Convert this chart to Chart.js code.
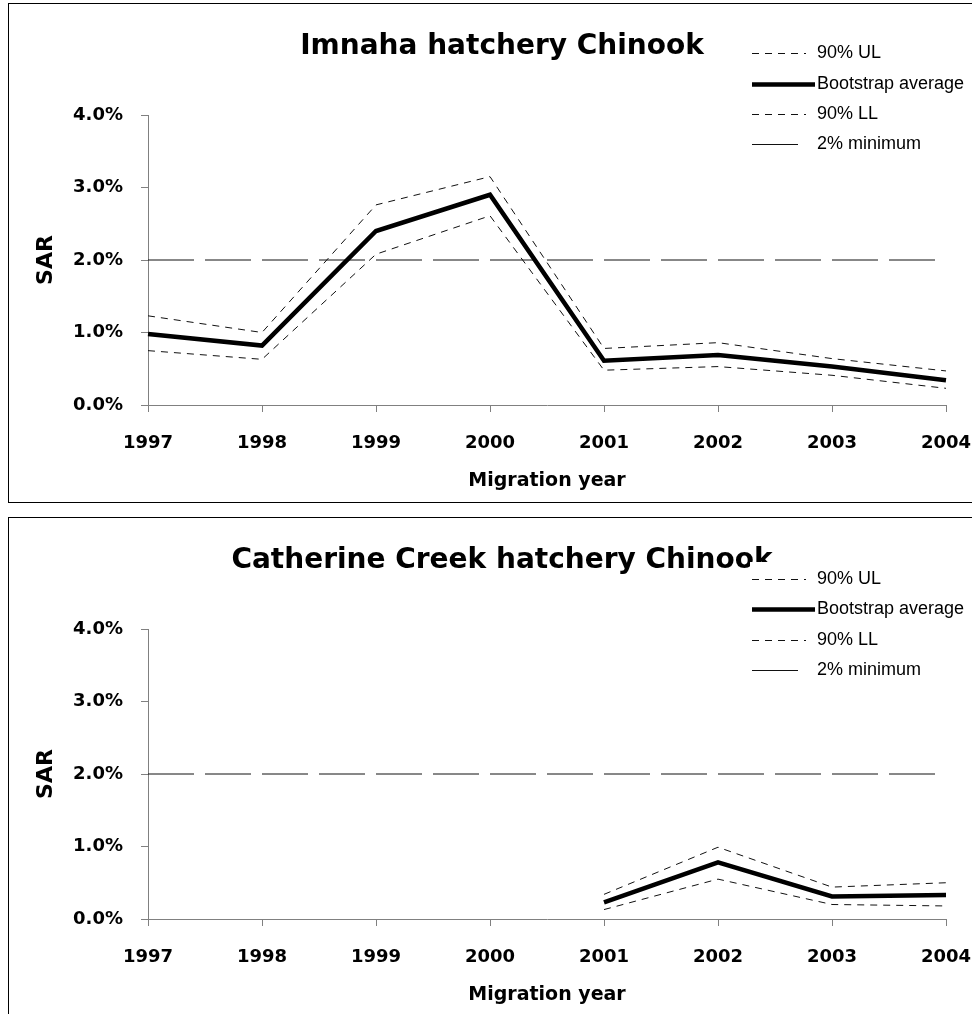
<!DOCTYPE html>
<html>
<head>
<meta charset="utf-8">
<script src="https://cdn.jsdelivr.net/npm/chart.js@4.4.1/dist/chart.umd.min.js"></script>
<style>
  html, body { margin: 0; padding: 0; background: #fff; overflow: hidden; }
  body { width: 972px; height: 1014px; position: relative; }
  .panel { position: absolute; left: 8px; width: 1000px; height: 498px; border: 1px solid #000; border-right: none; }
  #p1 { top: 3px; }
  #p2 { top: 517px; }
  .panel canvas { display: block; }
</style>
</head>
<body>
<div class="panel" id="p1"><canvas id="chart1" width="1000" height="498" style="width:1000px;height:498px"></canvas></div>
<div class="panel" id="p2"><canvas id="chart2" width="1000" height="498" style="width:1000px;height:498px"></canvas></div>
<script>
// migration years (x axis) and SAR ticks in %
const years = ['1997', '1998', '1999', '2000', '2001', '2002', '2003', '2004'];
const sarTicks = [0, 1, 2, 3, 4];

// Imnaha hatchery Chinook, SAR %
const imnahaUL = [1.23, 1.00, 2.76, 3.15, 0.78, 0.86, 0.64, 0.47];
const imnahaAvg = [0.98, 0.82, 2.40, 2.90, 0.61, 0.69, 0.53, 0.34];
const imnahaLL = [0.75, 0.63, 2.08, 2.61, 0.48, 0.53, 0.41, 0.23];

// Catherine Creek hatchery Chinook, SAR % (no data before 2001)
const catherineUL = [null, null, null, null, 0.34, 0.99, 0.44, 0.50];
const catherineAvg = [null, null, null, null, 0.23, 0.78, 0.31, 0.33];
const catherineLL = [null, null, null, null, 0.13, 0.55, 0.20, 0.18];

// 2% minimum goal
const minimum = [2, 2, 2, 2, 2, 2, 2, 2];

const seriesLabels = ['90% UL', 'Bootstrap average', '90% LL', '2% minimum'];

const boldFont = size => ({ family: 'DejaVu Sans', weight: 'bold', size: size });

// title + legend drawn on top of the chart (legend box is opaque, like the original)
const panelDecor = {
    id: 'panelDecor',
    afterDraw(chart, args, opts) {
        const ctx = chart.ctx;
        ctx.save();
        ctx.font = 'bold 28px "DejaVu Sans"';
        ctx.fillStyle = '#000';
        ctx.textAlign = 'center';
        ctx.textBaseline = 'alphabetic';
        ctx.fillText(opts.title, 493, 49.5);

        const gap = 30.3;
        ctx.fillStyle = '#fff';
        ctx.fillRect(741, opts.legendTop - 17, 259, gap * 3 + 34);

        ctx.font = '18px "Liberation Sans"';
        ctx.textAlign = 'left';
        ctx.textBaseline = 'middle';
        chart.data.datasets.forEach((ds, i) => {
            const y = Math.round(opts.legendTop + i * gap) + 0.5;
            let x2 = 797;
            if (ds.borderWidth > 2) x2 = 806;
            else if (ds.borderDash && ds.borderDash[0] > 20) x2 = 789;
            ctx.beginPath();
            ctx.strokeStyle = ds.borderColor;
            ctx.lineWidth = ds.borderWidth;
            ctx.setLineDash(ds.borderDash || []);
            ctx.moveTo(743, y);
            ctx.lineTo(x2, y);
            ctx.stroke();
            ctx.setLineDash([]);
            ctx.fillStyle = '#000';
            ctx.fillText(ds.label, 808, y);
        });
        ctx.restore();
    }
};

function makeChart(id, title, ul, avg, ll, legendTop) {
    const ctx = document.getElementById(id).getContext('2d');
    return new Chart(ctx, {
        type: 'line',
        data: {
            labels: years,
            datasets: [
                { label: seriesLabels[0], data: ul, borderColor: '#111', borderWidth: 1, borderDash: [7, 6] },
                { label: seriesLabels[1], data: avg, borderColor: '#000', borderWidth: 4.5 },
                { label: seriesLabels[2], data: ll, borderColor: '#111', borderWidth: 1, borderDash: [7, 6] },
                { label: seriesLabels[3], data: minimum, borderColor: '#111', borderWidth: 1, borderDash: [46, 11] }
            ]
        },
        options: {
            responsive: false,
            animation: false,
            devicePixelRatio: 1,
            layout: { padding: { top: 111, left: 0, right: 63, bottom: 0 } },
            elements: {
                point: { radius: 0, hoverRadius: 0 },
                line: { tension: 0, fill: false }
            },
            scales: {
                x: {
                    offset: false,
                    grid: { drawOnChartArea: false, tickLength: 7, color: '#808080' },
                    border: { color: '#808080' },
                    ticks: { color: '#000', font: boldFont(18), padding: 21, maxRotation: 0, autoSkip: false },
                    title: { display: true, text: 'Migration year', color: '#000', font: boldFont(19), padding: { top: 4, bottom: 10 } },
                    afterFit(scale) { scale.height = 97; }
                },
                y: {
                    min: 0,
                    max: 4,
                    grid: { drawOnChartArea: false, tickLength: 7, color: '#808080' },
                    border: { color: '#808080' },
                    afterBuildTicks(scale) { scale.ticks = sarTicks.map(v => ({ value: v })); },
                    ticks: { color: '#000', font: boldFont(18), padding: 18, callback: v => v.toFixed(1) + '%' },
                    title: { display: true, text: 'SAR', color: '#000', font: boldFont(22), padding: { top: 24, bottom: 0 } },
                    afterFit(scale) { scale.width = 139; }
                }
            },
            plugins: {
                legend: { display: false },
                title: { display: false },
                tooltip: { enabled: false },
                panelDecor: { title: title, legendTop: legendTop }
            }
        },
        plugins: [panelDecor]
    });
}

makeChart('chart1', 'Imnaha hatchery Chinook', imnahaUL, imnahaAvg, imnahaLL, 49.3);
makeChart('chart2', 'Catherine Creek hatchery Chinook', catherineUL, catherineAvg, catherineLL, 61);
</script>
</body>
</html>
